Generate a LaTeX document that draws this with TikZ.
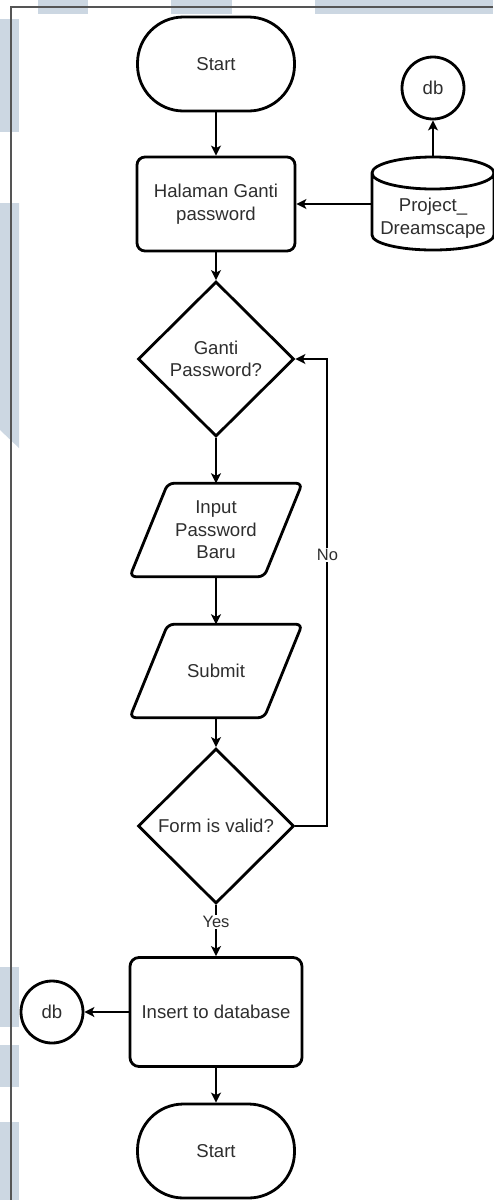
\documentclass[tikz,border=0pt]{standalone}
\usepackage{fontspec}
\setmainfont{Liberation Sans}
\usetikzlibrary{arrows.meta,shapes.geometric}
\definecolor{wm}{RGB}{204,215,226}
\definecolor{txt}{HTML}{2E2E2E}
\definecolor{framec}{HTML}{555555}
\begin{document}
\begin{tikzpicture}[x=1pt,y=-1pt,
  every node/.style={font=\fontsize{18.6}{22.5}\selectfont, text=txt, align=center},
  shp/.style={draw=black, line width=2.8pt},
  term/.style={shp, rectangle, rounded corners=46pt, minimum width=157pt, minimum height=94pt, inner sep=0pt},
  proc/.style={shp, rectangle, rounded corners=8pt, inner sep=0pt},
  dec/.style={shp, diamond, minimum width=156pt, minimum height=155pt, inner sep=0pt},
  iobox/.style={minimum width=172pt, minimum height=93pt, inner sep=0pt},
  cylbox/.style={minimum width=122pt, minimum height=93pt, inner sep=0pt},
  para/.style={shp, rounded corners=6pt},
  conn/.style={line width=1.9pt, -{Stealth[length=10pt,width=10pt,inset=2.5pt]}},
  lbl/.style={fill=white, inner sep=1pt, font=\fontsize{16.5}{19}\selectfont},
  circ/.style={shp, circle, minimum size=62pt, inner sep=0pt}
]
\useasboundingbox (0,0) rectangle (493,1200);
% background watermark blocks
\fill[wm] (38,0) rectangle (88,14);
\fill[wm] (171,0) rectangle (232,14);
\fill[wm] (315,0) rectangle (493,14);
\fill[wm] (0,19) rectangle (19,132);
\fill[wm] (0,203) -- (19,203) -- (19,448) -- (0,430) -- cycle;
\fill[wm] (0,967) rectangle (19,1027);
\fill[wm] (0,1045) rectangle (19,1087);
\fill[wm] (0,1122) rectangle (19,1200);
% page frame
\draw[framec, line width=1.3pt] (493,7) -- (11,7) -- (11,1200);

% nodes
\node[term] (start) at (216,64) {Start};
\node[proc, minimum width=158pt, minimum height=94pt] (hal) at (216,204) {Halaman Ganti\\password};
\node[circ] (db1) at (433,88) {db};
\node[cylbox] (proj) at (433,204) {};
\draw[shp] (372,173) -- (372,235) arc[start angle=180,end angle=360,x radius=61pt,y radius=15pt]
  -- (494,173) arc[start angle=0,end angle=180,x radius=61pt,y radius=16pt]
  arc[start angle=180,end angle=360,x radius=61pt,y radius=16pt];
\node (projlbl) at (433,218) {Project\_\\Dreamscape};
\node[dec] (d1) at (216,359) {Ganti\\Password?};
\node[iobox] (inp) at (216,530) {Input\\Password\\Baru};
\draw[para] ([xshift=38pt]inp.north west) -- (inp.north east) -- ([xshift=-38pt]inp.south east) -- (inp.south west) -- cycle;
\node[iobox] (sub) at (216,671) {Submit};
\draw[para] ([xshift=38pt]sub.north west) -- (sub.north east) -- ([xshift=-38pt]sub.south east) -- (sub.south west) -- cycle;
\node[dec] (d2) at (216,826) {Form is valid?};
\node[proc, rounded corners=9pt, minimum width=172pt, minimum height=109pt] (ins) at (216,1012) {Insert to database};
\node[circ] (db2) at (52,1012) {db};
\node[term] (end) at (216,1151) {Start};

% connectors
\draw[conn] (start) -- (hal);
\draw[conn] (proj.north) -- (db1);
\draw[conn] (proj.west) -- (hal.east);
\draw[conn] (hal) -- (d1);
\draw[conn] (d1) -- (inp);
\draw[conn] (inp) -- (sub);
\draw[conn] (sub) -- (d2);
\draw[conn] (d2.east) -- ++(32,0) |- node[lbl,pos=0.29]{No} (d1.east);
\draw[conn] (d2) -- node[lbl,pos=0.33]{Yes} (ins);
\draw[conn] (ins) -- (db2);
\draw[conn] (ins) -- (end);
\end{tikzpicture}
\end{document}
